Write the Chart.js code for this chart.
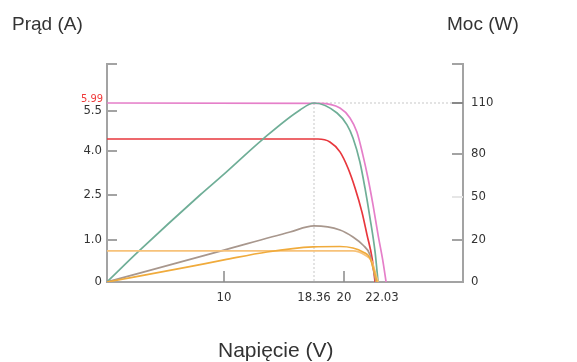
<!DOCTYPE html>
<html>
<head>
<meta charset="utf-8">
<script src="https://cdn.jsdelivr.net/npm/chart.js@4"></script>
<style>
  html, body { margin: 0; padding: 0; background: #fff; }
  #wrap { width: 577px; height: 362px; }
</style>
</head>
<body>
<div id="wrap"><canvas id="chart" width="577" height="362"></canvas></div>
<script>
// Ticks shown on the axes
const voltTicks = [10, 18.36, 20, 22.03];
const currentTicks = [0, 1.0, 2.5, 4.0, 5.5];
const currentLabels = ['0', '1.0', '2.5', '4.0', '5.5'];
const powerTicks = [0, 20, 50, 80, 110];

// Short-circuit current and maximum power point
const iscValue = 5.99;
const mppVolt = 18.36;
const mppPower = 110;

// I-V and P-V curves (three irradiance levels)
const ivHighV = [0, 18.69, 19.78, 20.32, 20.69, 21.01, 21.28, 21.55, 21.82, 22.08, 22.23];
const ivHighA = [5.99, 5.97, 5.68, 5.24, 4.71, 3.86, 3.08, 2.17, 1.17, 0.48, 0];
const pvHighV = [0, 2.65, 7.95, 10, 13.62, 17.06, 18.36, 19.62, 20.16, 20.48, 20.85, 21.12, 21.39, 21.66, 21.82];
const pvHighW = [0, 14.3, 51.4, 66.0, 88.8, 105.9, 110, 104.1, 97.1, 89.4, 74.4, 56.3, 35.3, 14.3, 0];

const ivMidV = [0, 18.58, 19.23, 19.78, 20.21, 20.59, 20.96, 21.23, 21.50, 21.66];
const ivMidA = [4.45, 4.45, 4.34, 3.97, 3.42, 2.74, 1.93, 1.17, 0.57, 0];
const pvMidV = [0, 10, 16.13, 18.36, 19.78, 20.48, 21.01, 21.39, 21.55, 21.71];
const pvMidW = [0, 15.2, 25.6, 29.8, 27.0, 22.1, 17.6, 12.9, 6.7, 0];

const ivLowV = [0, 20.48, 21.12, 21.50, 21.71, 21.82];
const ivLowA = [0.74, 0.74, 0.64, 0.48, 0.17, 0];
const pvLowV = [0, 6.84, 10, 13.99, 18.27, 19.78, 20.48, 21.01, 21.39, 21.66, 21.76];
const pvLowW = [0, 7.1, 10.5, 14.3, 16.7, 16.9, 16.2, 14.3, 11.4, 3.3, 0];

// The original axes are not evenly spaced: each scale is linear between break points
const voltBreaks = [0, 10, 18.36, 20, 22.03, 26];
const voltSpacing = [0, 117, 207, 237, 275, 356];
const currentBreaks = [0, 1, 2.5, 4, 5.5, 5.99, 6.6];
const currentSpacing = [0, 42, 87, 131, 171, 179, 218];
const powerBreaks = [0, 20, 50, 80, 110, 130];
const powerSpacing = [0, 42, 85, 128, 179, 218];

class PiecewiseScale extends Chart.LinearScale {
  buildTicks() {
    return this.options.tickValues.map(v => ({ value: v }));
  }
  toDecimal(v) {
    const vals = this.options.breaks, pos = this.options.spacing;
    const last = pos[pos.length - 1];
    let i = 1;
    while (i < vals.length - 1 && v > vals[i]) i++;
    const t = (v - vals[i - 1]) / (vals[i] - vals[i - 1]);
    return (pos[i - 1] + t * (pos[i] - pos[i - 1])) / last;
  }
  getPixelForValue(v) {
    return this.getPixelForDecimal(this.toDecimal(v));
  }
  getValueForPixel(p) {
    const vals = this.options.breaks, pos = this.options.spacing;
    const d = this.getDecimalForPixel(p) * pos[pos.length - 1];
    let i = 1;
    while (i < pos.length - 1 && d > pos[i]) i++;
    const t = (d - pos[i - 1]) / (pos[i] - pos[i - 1]);
    return vals[i - 1] + t * (vals[i] - vals[i - 1]);
  }
}
PiecewiseScale.id = 'piecewise';
PiecewiseScale.defaults = {};
Chart.register(PiecewiseScale);

function points(xs, ys) {
  return xs.map((x, i) => ({ x: x, y: ys[i] }));
}

function curve(data, color, axis) {
  return {
    data: data,
    yAxisID: axis,
    borderColor: color,
    borderWidth: 1.7,
    pointRadius: 0,
    fill: false,
    cubicInterpolationMode: 'monotone'
  };
}

const tickFamily = '"DejaVu Sans Condensed", "DejaVu Sans", sans-serif';
const tickFont = { family: tickFamily, size: 13 };

// Axis frame, inward tick marks, MPP guide lines and titles
const framePlugin = {
  id: 'frame',
  beforeDatasetsDraw(chart) {
    const { ctx, chartArea: a } = chart;
    const { x, yI, yP } = chart.scales;
    const seg = (x1, y1, x2, y2) => { ctx.beginPath(); ctx.moveTo(x1, y1); ctx.lineTo(x2, y2); ctx.stroke(); };
    ctx.save();

    const gx = x.getPixelForValue(mppVolt);
    const gy = yP.getPixelForValue(mppPower);
    ctx.strokeStyle = '#c8c8c8';
    ctx.lineWidth = 1;
    ctx.setLineDash([2, 2]);
    seg(gx, gy, gx, a.bottom);
    seg(gx, gy, a.right, gy);
    ctx.setLineDash([]);

    ctx.strokeStyle = '#a3a3a3';
    ctx.lineWidth = 2;
    ctx.beginPath();
    ctx.moveTo(a.left + 10, a.top);
    ctx.lineTo(a.left, a.top);
    ctx.lineTo(a.left, a.bottom);
    ctx.lineTo(a.right, a.bottom);
    ctx.lineTo(a.right, a.top);
    ctx.lineTo(a.right - 11, a.top);
    ctx.stroke();

    yI.ticks.forEach((t, i) => {
      if (t.value === 0) return;
      const y = yI.getPixelForTick(i);
      seg(a.left, y, a.left + 10, y);
    });
    yP.ticks.forEach((t, i) => {
      if (t.value === 0) return;
      const y = yP.getPixelForTick(i);
      ctx.strokeStyle = t.value === 50 ? '#e6e6e6' : (t.value === 110 ? '#888' : '#a3a3a3');
      seg(a.right - 11, y, a.right, y);
    });
    ctx.strokeStyle = '#8a8a8a';
    ctx.lineWidth = 1.5;
    x.ticks.forEach((t, i) => {
      if (!Number.isInteger(t.value)) return;
      const px = x.getPixelForTick(i);
      seg(px, a.bottom, px, a.bottom - 11);
    });
    ctx.restore();
  },
  afterDraw(chart) {
    const { ctx, chartArea: a } = chart;
    ctx.save();
    // Isc label in red, just above the 5.5 tick
    ctx.fillStyle = '#f03a3a';
    ctx.font = '11px ' + tickFamily;
    ctx.textAlign = 'right';
    ctx.textBaseline = 'bottom';
    ctx.fillText(String(iscValue), a.left - 4, chart.scales.yI.getPixelForValue(iscValue) + 2);

    ctx.fillStyle = '#333';
    ctx.textBaseline = 'alphabetic';
    ctx.font = '19px "Liberation Sans", Arial, sans-serif';
    ctx.textAlign = 'left';
    ctx.fillText('Prąd (A)', 12, 30);
    ctx.fillText('Moc (W)', 447, 30);
    ctx.font = '21px "Liberation Sans", Arial, sans-serif';
    ctx.fillText('Napięcie (V)', 218, 357);
    ctx.restore();
  }
};

new Chart(document.getElementById('chart'), {
  type: 'line',
  data: {
    datasets: [
      curve(points(pvLowV, pvLowW), '#f0ab3c', 'yP'),
      curve(points(ivLowV, ivLowA), '#f7c27a', 'yI'),
      curve(points(pvMidV, pvMidW), '#a8978d', 'yP'),
      curve(points(pvHighV, pvHighW), '#6fae97', 'yP'),
      curve(points(ivMidV, ivMidA), '#e8373d', 'yI'),
      curve(points(ivHighV, ivHighA), '#e57fc9', 'yI')
    ]
  },
  options: {
    responsive: false,
    animation: false,
    layout: { padding: { top: 64, left: 0, right: 0, bottom: 0 } },
    plugins: { legend: { display: false }, tooltip: { enabled: false } },
    scales: {
      x: {
        type: 'piecewise',
        position: 'bottom',
        min: 0, max: 26,
        breaks: voltBreaks, spacing: voltSpacing, tickValues: voltTicks,
        grid: { display: false, drawTicks: false },
        border: { display: false },
        ticks: { autoSkip: false, maxRotation: 0, padding: 8, color: '#333', font: tickFont,
          callback: v => String(v) },
        afterFit: s => { s.height = 80; }
      },
      yI: {
        type: 'piecewise',
        position: 'left',
        min: 0, max: 6.6,
        breaks: currentBreaks, spacing: currentSpacing, tickValues: currentTicks,
        grid: { display: false, drawTicks: false },
        border: { display: false },
        ticks: { autoSkip: false, padding: 5, color: '#333', font: tickFont,
          callback: (v, i) => currentLabels[i] },
        afterFit: s => { s.width = 107; }
      },
      yP: {
        type: 'piecewise',
        position: 'right',
        min: 0, max: 130,
        breaks: powerBreaks, spacing: powerSpacing, tickValues: powerTicks,
        grid: { display: false, drawTicks: false },
        border: { display: false },
        ticks: { autoSkip: false, padding: 8, color: '#333', font: tickFont, callback: v => String(v) },
        afterFit: s => { s.width = 114; }
      }
    }
  },
  plugins: [framePlugin]
});
</script>
</body>
</html>
